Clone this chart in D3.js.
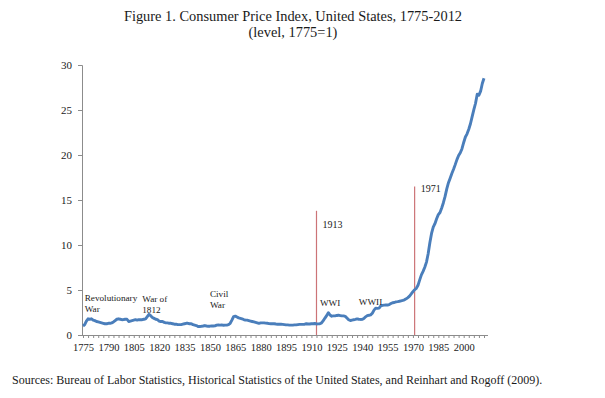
<!DOCTYPE html>
<html>
<head>
<meta charset="utf-8">
<script src="https://cdn.jsdelivr.net/npm/d3@7"></script>
<style>
  body { margin: 0; background: #fff; }
  svg text { font-family: "Liberation Serif", "Times New Roman", serif; fill: #1a1a1a; }
</style>
</head>
<body>
<div id="chart"></div>
<script>
// CPI level, 1775 = 1, one value per year 1775..2012
var firstYear = 1775;
var cpi = [
  1.00, 1.15, 1.55, 1.80, 1.75, 1.80, 1.65, 1.60, 1.50, 1.45,   // 1775-1784
  1.40, 1.35, 1.30, 1.25, 1.25, 1.30, 1.30, 1.35, 1.45, 1.60,   // 1785-1794
  1.75, 1.80, 1.75, 1.70, 1.72, 1.75, 1.75, 1.50, 1.55, 1.60,   // 1795-1804
  1.65, 1.70, 1.65, 1.70, 1.70, 1.70, 1.75, 1.80, 2.05, 2.30,   // 1805-1814
  2.15, 1.95, 1.85, 1.75, 1.70, 1.55, 1.50, 1.50, 1.40, 1.35,   // 1815-1824
  1.35, 1.30, 1.30, 1.25, 1.20, 1.20, 1.15, 1.15, 1.15, 1.20,   // 1825-1834
  1.25, 1.30, 1.30, 1.25, 1.25, 1.15, 1.10, 1.05, 0.95, 0.95,   // 1835-1844
  0.97, 1.00, 1.05, 1.00, 0.97, 0.98, 1.00, 1.00, 1.02, 1.10,   // 1845-1854
  1.12, 1.10, 1.13, 1.08, 1.10, 1.10, 1.15, 1.30, 1.65, 2.05,   // 1855-1864
  2.10, 2.00, 1.90, 1.85, 1.80, 1.72, 1.65, 1.65, 1.60, 1.55,   // 1865-1874
  1.50, 1.45, 1.40, 1.35, 1.30, 1.35, 1.35, 1.35, 1.32, 1.30,   // 1875-1884
  1.27, 1.25, 1.25, 1.25, 1.22, 1.20, 1.20, 1.20, 1.18, 1.15,   // 1885-1894
  1.12, 1.12, 1.10, 1.10, 1.10, 1.12, 1.12, 1.15, 1.18, 1.18,   // 1895-1904
  1.18, 1.20, 1.25, 1.22, 1.22, 1.25, 1.25, 1.28, 1.23, 1.24,   // 1905-1914
  1.25, 1.35, 1.59, 1.88, 2.15, 2.48, 2.22, 2.09, 2.12, 2.12,   // 1915-1924
  2.17, 2.20, 2.16, 2.12, 2.12, 2.07, 1.89, 1.70, 1.61, 1.66,   // 1925-1934
  1.70, 1.73, 1.79, 1.75, 1.73, 1.74, 1.83, 2.02, 2.15, 2.19,   // 1935-1944
  2.24, 2.42, 2.77, 2.99, 2.96, 2.99, 3.23, 3.29, 3.32, 3.34,   // 1945-1954
  3.33, 3.38, 3.49, 3.59, 3.61, 3.68, 3.71, 3.75, 3.80, 3.85,   // 1955-1964
  3.91, 4.02, 4.15, 4.32, 4.56, 4.82, 5.03, 5.19, 5.52, 6.12,   // 1965-1974
  6.68, 7.07, 7.53, 8.10, 9.02, 10.24, 11.29, 11.99, 12.37, 12.91, // 1975-1984
  13.37, 13.61, 14.11, 14.70, 15.40, 16.24, 16.92, 17.43, 17.95, 18.41, // 1985-1994
  18.93, 19.49, 19.94, 20.25, 20.70, 21.39, 22.00, 22.35, 22.86, 23.47, // 1995-2004
  24.26, 25.04, 25.75, 26.75, 26.65, 27.09, 27.94, 28.52          // 2005-2012
];
var years = cpi.map(function(d, i) { return firstYear + i; });

var yTicks = [0, 5, 10, 15, 20, 25, 30];
var xLabelYears = [1775, 1790, 1805, 1820, 1835, 1850, 1865, 1880, 1895, 1910, 1925, 1940, 1955, 1970, 1985, 2000];

var markers = [
  { year: 1913, top: 13.8, label: "1913", labelY: 11.9 },
  { year: 1971, top: 16.5, label: "1971", labelY: 15.9 }
];

var events = [
  { year: 1776, y: 3.8, lines: ["Revolutionary", "War"] },
  { year: 1810, y: 3.7, lines: ["War of", "1812"] },
  { year: 1850, y: 4.2, lines: ["Civil", "War"] },
  { year: 1915, y: 3.2, lines: ["WWI"] },
  { year: 1938, y: 3.3, lines: ["WWII"] }
];

var title = "Figure 1. Consumer Price Index, United States, 1775-2012";
var subtitle = "(level, 1775=1)";
var source = "Sources: Bureau of Labor Statistics, Historical Statistics of the United States, and Reinhart and Rogoff (2009).";

var width = 605, height = 398;
var margin = { left: 82, right: 121, top: 65, bottom: 63 };

var svg = d3.select("#chart").append("svg")
  .attr("width", width).attr("height", height);

var x = d3.scaleLinear().domain([1775, 2012]).range([83, 484]);
var y = d3.scaleLinear().domain([0, 30]).range([height - margin.bottom, margin.top]);

// titles
svg.append("text").attr("x", 293).attr("y", 21)
  .attr("text-anchor", "middle").style("font-size", "14.4px").text(title);
svg.append("text").attr("x", 293).attr("y", 37)
  .attr("text-anchor", "middle").style("font-size", "14.4px").text(subtitle);

// y axis
var yAxis = svg.append("g").attr("transform", "translate(" + margin.left + ",0)")
  .call(d3.axisLeft(y).tickValues(yTicks).tickSize(4).tickPadding(6));
yAxis.select(".domain").attr("stroke", "#8c8c8c");
yAxis.selectAll(".tick line").attr("stroke", "#8c8c8c");
yAxis.selectAll("text").style("font-size", "11px").attr("fill", "#1a1a1a");

// x axis
var tickYears = d3.range(1775, 2013, 3);
var xAxis = svg.append("g").attr("transform", "translate(0," + y(0) + ")")
  .call(d3.axisBottom(x).tickValues(tickYears).tickSize(3).tickSizeOuter(0)
    .tickFormat(function(d) { return xLabelYears.indexOf(d) >= 0 ? d : ""; }).tickPadding(6));
xAxis.select(".domain").attr("stroke", "#8c8c8c").attr("d", "M82,0.5H488");
xAxis.selectAll(".tick line").attr("stroke", "#8c8c8c");
xAxis.selectAll("text").style("font-size", "10.5px").attr("fill", "#1a1a1a");

// vertical markers
svg.selectAll(".marker").data(markers).enter().append("line")
  .attr("class", "marker")
  .attr("x1", function(d) { return x(d.year); })
  .attr("x2", function(d) { return x(d.year); })
  .attr("y1", y(0))
  .attr("y2", function(d) { return y(d.top); })
  .attr("stroke", "#cc7477").attr("stroke-width", 1.2);

svg.selectAll(".marker-label").data(markers).enter().append("text")
  .attr("x", function(d) { return x(d.year) + 6; })
  .attr("y", function(d) { return y(d.labelY); })
  .style("font-size", "10px")
  .text(function(d) { return d.label; });

// CPI line
var line = d3.line()
  .x(function(d, i) { return x(years[i]); })
  .y(function(d) { return y(d); });

svg.append("path").datum(cpi)
  .attr("d", line)
  .attr("fill", "none")
  .attr("stroke", "#4a7ebb")
  .attr("stroke-width", 2.9)
  .attr("stroke-linejoin", "round");

// event labels
events.forEach(function(e) {
  var t = svg.append("text")
    .attr("x", x(e.year))
    .attr("y", y(e.y))
    .style("font-size", "9.2px");
  e.lines.forEach(function(s, i) {
    t.append("tspan").attr("x", x(e.year)).attr("dy", i === 0 ? 0 : 11).text(s);
  });
});

// source note
svg.append("text").attr("x", 12).attr("y", 384)
  .style("font-size", "12px").text(source);
</script>
</body>
</html>
